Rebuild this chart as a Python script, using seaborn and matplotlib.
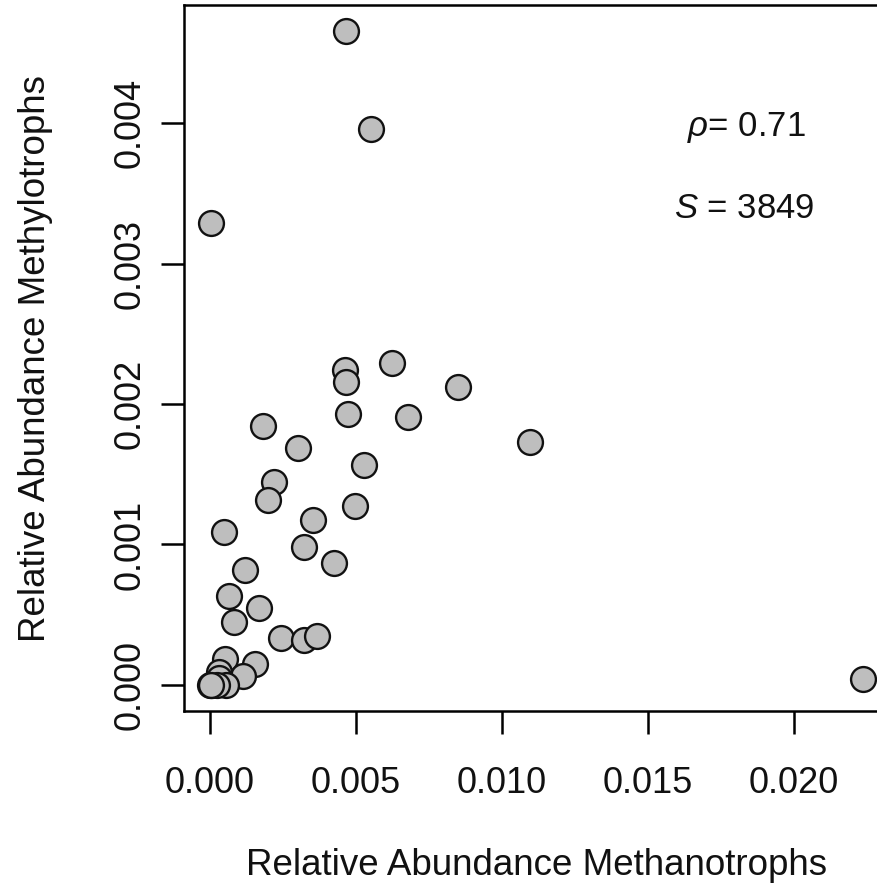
import matplotlib
matplotlib.use("Agg")
import matplotlib.pyplot as plt
import seaborn as sns
import pandas as pd

# Data
methanotrophs = [0.00466, 0.00551, 0.00003, 0.00623, 0.00462, 0.00466, 0.00849,
                 0.00473, 0.00678, 0.00182, 0.00301, 0.01096, 0.00527, 0.00219,
                 0.00199, 0.00497, 0.00353, 0.00048, 0.00322, 0.00120, 0.00425,
                 0.00065, 0.00168, 0.00082, 0.00243, 0.00322, 0.00366, 0.00051,
                 0.00154, 0.00113, 0.00031, 0.02236,
                 0.00000, 0.00007, 0.00017, 0.00031, 0.00055, 0.00024, 0.00002]
methylotrophs = [0.004656, 0.003957, 0.003287, 0.002289, 0.002246, 0.002160, 0.002125,
                 0.001932, 0.001911, 0.001847, 0.001690, 0.001733, 0.001569, 0.001447,
                 0.001319, 0.001276, 0.001176, 0.001091, 0.000984, 0.000820, 0.000870,
                 0.000635, 0.000549, 0.000449, 0.000335, 0.000321, 0.000349, 0.000185,
                 0.000150, 0.000064, 0.000093, 0.000043,
                 0.000000, 0.000000, 0.000007, 0.000050, 0.000000, 0.000000, 0.000000]
x_ticks = [0.000, 0.005, 0.010, 0.015, 0.020]
x_ticklabels = ["0.000", "0.005", "0.010", "0.015", "0.020"]
y_ticks = [0.000, 0.001, 0.002, 0.003, 0.004]
y_ticklabels = ["0.000", "0.001", "0.002", "0.003", "0.004"]
x_label = "Relative Abundance Methanotrophs"
y_label = "Relative Abundance Methylotrophs"
rho_text = r"$\rho$= 0.71"
s_text = r"$S$ = 3849"

df = pd.DataFrame({"x": methanotrophs, "y": methylotrophs})

sns.set_style("white")
plt.rcParams["font.family"] = ["Liberation Sans", "DejaVu Sans"]
plt.rcParams["mathtext.fontset"] = "custom"
plt.rcParams["mathtext.rm"] = "Liberation Sans"
plt.rcParams["mathtext.it"] = "Liberation Sans:italic"

fig = plt.figure(figsize=(8.77, 8.92), dpi=100)
ax = fig.add_axes([184 / 877, 1 - 711 / 892, (889 - 184) / 877, (711 - 5) / 892])

sns.scatterplot(data=df, x="x", y="y", ax=ax, s=320, color="#BEBEBE",
                edgecolor="#111111", linewidth=1.7, legend=False, zorder=3)

xmin, xmax = min(methanotrophs), max(methanotrophs)
ymin, ymax = min(methylotrophs), max(methylotrophs)
dx = (xmax - xmin) * 0.04
dy = (ymax - ymin) * 0.04
ax.set_xlim(xmin - dx, xmax + dx)
ax.set_ylim(ymin - dy, ymax + dy)

ax.set_xticks(x_ticks)
ax.set_xticklabels(x_ticklabels)
ax.set_yticks(y_ticks)
ax.set_yticklabels(y_ticklabels, rotation=90, va="center")
ax.tick_params(axis="both", direction="out", length=16.5, width=1.8,
               color="black", labelsize=26, labelcolor="#111111",
               bottom=True, left=True)
ax.tick_params(axis="x", pad=23)
ax.tick_params(axis="y", pad=10)

for sp in ax.spines.values():
    sp.set_visible(True)
    sp.set_color("black")
    sp.set_linewidth(1.8)

ax.set_xlabel(x_label, fontsize=26.5, color="#111111")
ax.set_ylabel(y_label, fontsize=26.5, color="#111111")
ax.xaxis.set_label_coords(0.5, -0.2195)
ax.xaxis.label.set_va("center")
ax.yaxis.set_label_coords(-0.211, 0.5)
ax.yaxis.label.set_va("center")

ax.text(0.01836, 0.00397, rho_text, fontsize=25, ha="center", va="center", color="#111111")
ax.text(0.01829, 0.003394, s_text, fontsize=25, ha="center", va="center", color="#111111")

fig.savefig("out.png", dpi=100)
